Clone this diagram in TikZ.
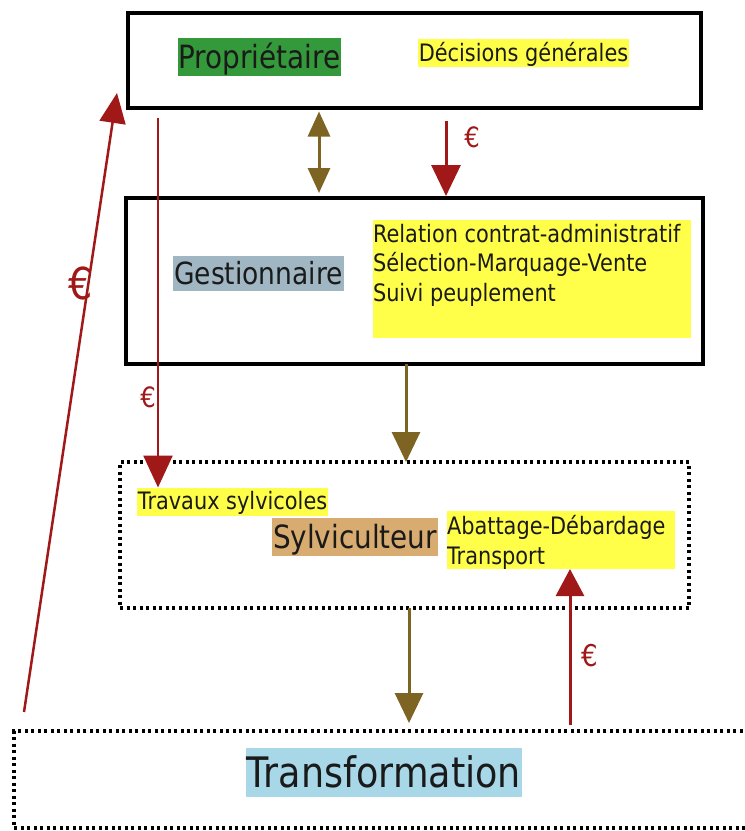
\documentclass[tikz,border=0pt]{standalone}
\usepackage{fontspec}
\setmainfont{DejaVu Sans}[FakeStretch=0.87]
\usetikzlibrary{arrows.meta}
\definecolor{brn}{HTML}{7D6423}
\definecolor{rd}{HTML}{A01818}
\definecolor{grn}{HTML}{34993A}
\definecolor{gst}{HTML}{A0B6C2}
\definecolor{syl}{HTML}{D8AC70}
\definecolor{trf}{HTML}{A8D8E8}
\definecolor{yel}{HTML}{FFFF4A}
\definecolor{ink}{HTML}{1A1A1A}
\begin{document}
\begin{tikzpicture}[x=1pt,y=-1pt,
  solidbox/.style={draw=black, line width=3.5pt, inner sep=0pt, outer sep=0pt},
  dotbox/.style={draw=black, line width=3.5pt, dash pattern=on 3pt off 3.5pt, inner sep=0pt, outer sep=0pt},
  hl/.style={inner xsep=1pt, inner ysep=0pt, outer sep=0pt, text=ink},
  bigtxt/.style={font=\fontsize{32}{38}\selectfont, text height=29.8pt, text depth=7.5pt},
  midtxt/.style={font=\fontsize{30.5}{36}\selectfont, text height=28.4pt, text depth=7.2pt},
  hugetxt/.style={font=\fontsize{42}{50}\selectfont, text height=39pt, text depth=9.9pt},
  smalltxt/.style={font=\fontsize{24}{29.5}\selectfont, text height=22.3pt, text depth=5.7pt},
  yblock/.style={fill=yel, inner sep=0pt, outer sep=0pt, anchor=north west},
  blocktxt/.style={anchor=north west, align=left, inner sep=0pt, outer sep=0pt, text=ink},
  euro/.style={text=rd, inner sep=0pt},
  barrow/.style={draw=brn, line width=3pt, -{Triangle[width=28pt,length=30pt]}},
  darrow/.style={draw=brn, line width=3pt, {Triangle[width=22pt,length=25pt]}-{Triangle[width=22pt,length=25pt]}},
  rarrow/.style={draw=rd, line width=3pt, -{Triangle[width=29pt,length=31pt]}},
  rthin/.style={draw=rd, line width=2.5pt, -{Triangle[width=29pt,length=32pt]}}
]
\useasboundingbox (0,0) rectangle (745,831);

% boxes
\node[solidbox, minimum width=573pt, minimum height=95pt] (prop) at (414.5,60.5) {};
\node[solidbox, minimum width=577pt, minimum height=166pt] (gest) at (414.5,281) {};
\node[dotbox, minimum width=569pt, minimum height=146pt] (sylv) at (404.5,535) {};
\node[dotbox, minimum width=800pt, minimum height=97pt, anchor=north west] (transf) at (14,731) {};

% labels
\node[hl, fill=grn, bigtxt] (lprop) at (259.5,57) {Propriétaire};
\node[hl, fill=yel, smalltxt] (ldec) at (523.5,53) {Décisions générales};
\node[hl, fill=gst, midtxt] (lgest) at (258.5,273.5) {Gestionnaire};
\node[yblock, minimum width=318pt, minimum height=118pt] (gy) at (373,220) {};
\node[blocktxt, font=\fontsize{24}{29.5}\selectfont] (gtxt) at ([yshift=-4pt]gy.north west)
  {Relation contrat-administratif\\Sélection-Marquage-Vente\\Suivi peuplement};
\node[hl, fill=yel, smalltxt] (trav) at (232.5,501.5) {Travaux sylvicoles};
\node[hl, fill=syl, bigtxt] (lsyl) at (355,537) {Sylviculteur};
\node[yblock, minimum width=228pt, minimum height=58pt] (ay) at (447,511) {};
\node[blocktxt, font=\fontsize{24}{30}\selectfont] (atxt) at ([yshift=-4pt]ay.north west)
  {Abattage-Débardage\\Transport};
\node[hl, fill=trf, hugetxt] (ltrf) at (384,772.5) {Transformation};

% connectors
\draw[darrow, shorten <=3.5pt, shorten >=5pt] ([xshift=-95.5pt]prop.south) -- ([xshift=-95.5pt]prop.south |- gest.north);
\draw[rarrow, shorten <=13pt, shorten >=2pt] ([xshift=31.5pt]prop.south) -- ([xshift=31.5pt]prop.south |- gest.north);
\draw[rthin, shorten <=10pt] ([xshift=-256.5pt]prop.south) -- ([xshift=-256.5pt]prop.south |- trav.north);
\draw[barrow] ([xshift=-8.5pt]gest.south) -- ([xshift=-8.5pt]gest.south |- sylv.north);
\draw[barrow, shorten >=8pt] ([xshift=4.5pt]sylv.south) -- ([xshift=4.5pt]sylv.south |- transf.north);
\draw[rarrow, -{Triangle[width=28pt,length=27pt]}, shorten <=6pt] ([xshift=9pt]ay.south |- transf.north) -- ([xshift=9pt]ay.south);
\draw[rthin, -{Triangle[width=26pt,length=30pt]}] ([xshift=10pt,yshift=19pt]transf.north west) -- ([xshift=-11pt,yshift=-32.5pt]prop.west);

% euro labels
\node[euro, font=\fontsize{28}{32}\selectfont] (e1) at (472,137) {€};
\node[euro, font=\fontsize{28}{32}\selectfont] (e2) at (148,397) {€};
\node[euro, font=\fontsize{30}{34}\selectfont] (e3) at (590,656) {€};
\node[euro, font=\fontsize{44}{50}\selectfont] (e4) at (81,283) {€};
\end{tikzpicture}
\end{document}
